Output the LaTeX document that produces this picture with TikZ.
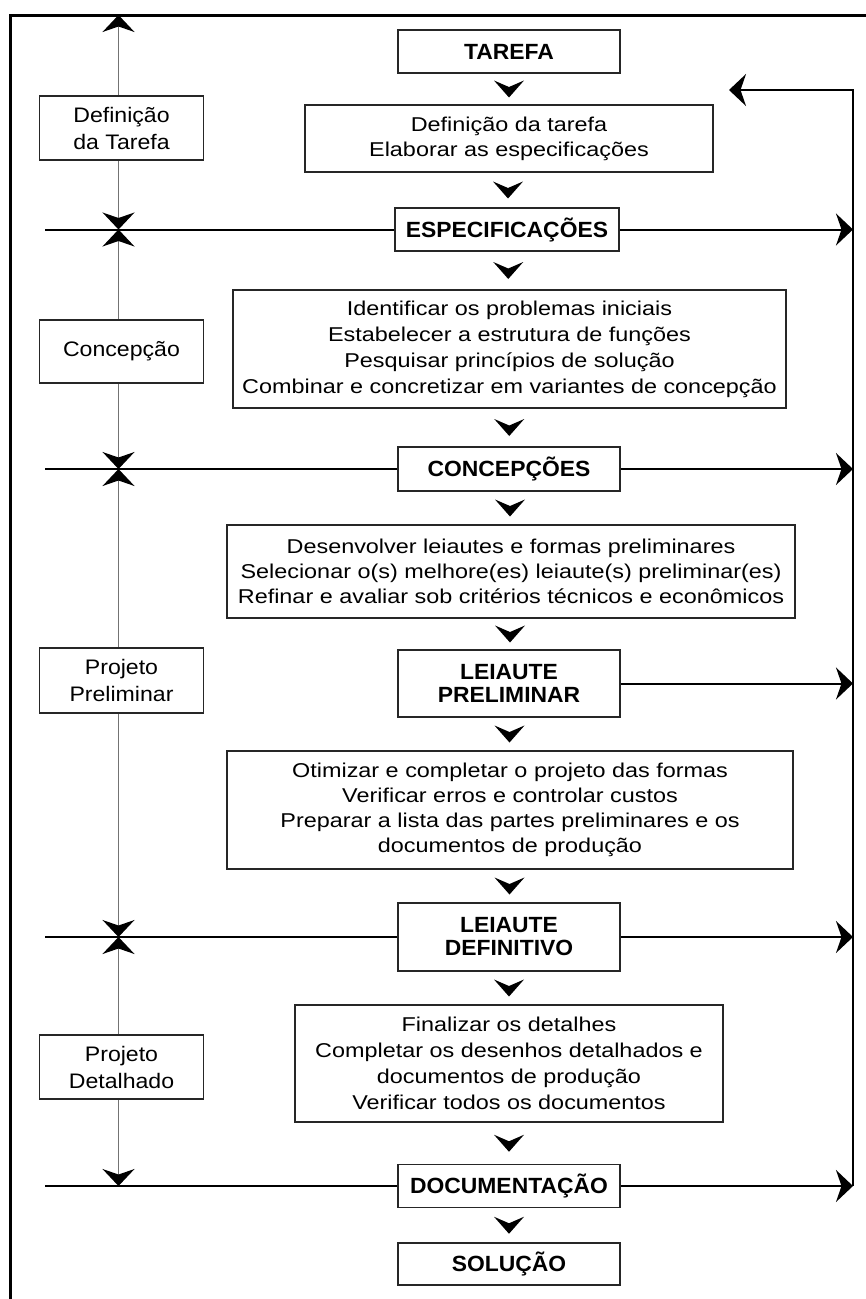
\documentclass[tikz,border=0pt]{standalone}
\usepackage{fontspec}
\setmainfont{Liberation Sans}[FakeStretch=1.17]
\newfontfamily\sidefont{Liberation Sans}[FakeStretch=1.1]
\newfontfamily\capfont{Liberation Sans}[FakeStretch=1.04]
\usetikzlibrary{arrows.meta,calc}
\begin{document}
\begin{tikzpicture}[x=1pt,y=-1pt,
  box/.style={draw=black!85,line width=1.8pt,inner sep=0pt,align=center,fill=white,font=\fontsize{20}{25}\selectfont},
  capbox/.style={box,font=\capfont\fontsize{22}{23}\selectfont\bfseries,minimum width=222pt},
  sidebox/.style={box,minimum width=164pt,font=\sidefont\fontsize{21}{27}\selectfont},
  tip/.style={-{Stealth[length=17pt,width=32pt,inset=5.5pt,black]}},
  hline/.style={draw=black,line width=2pt},
  vline/.style={draw=black!55,line width=1.6pt},
  frameline/.style={draw=black,line width=3pt},
  chev/.pic={\fill[black] (-15,-8.5) -- (0,-2) -- (15,-8.5) -- (0,8.5) -- cycle;}
]
\useasboundingbox (0,0) rectangle (866,1299);
% frame
\draw[frameline] (10,1299) -- (10,15) -- (866,15);
% coordinates
\coordinate (L) at (118.5,15);
\coordinate (H) at (45,0);
\coordinate (F) at (853,90);
\coordinate (FT) at (729,90);
% nodes
\node[capbox,minimum height=43pt] (tarefa) at (509,51.5) {TAREFA};
\node[box,minimum width=408pt,minimum height=67pt] (b1) at (509,138.5) {Definição da tarefa\\Elaborar as especificações};
\node[sidebox,minimum height=64pt] (s1) at (121.5,128) {Definição\\da Tarefa};
\node[capbox,minimum width=224pt,minimum height=43pt] (espec) at (507,229.5) {ESPECIFICAÇÕES};
\node[box,minimum width=553pt,minimum height=118pt,font=\fontsize{20}{26}\selectfont] (b2) at (509.5,349) {Identificar os problemas iniciais\\Estabelecer a estrutura de funções\\Pesquisar princípios de solução\\Combinar e concretizar em variantes de concepção};
\node[sidebox,minimum height=63pt] (s2) at (121.5,351.5) {Concepção};
\node[capbox,minimum height=44pt] (concs) at (509,469) {CONCEPÇÕES};
\node[box,minimum width=568pt,minimum height=93pt] (b3) at (511,571.5) {Desenvolver leiautes e formas preliminares\\Selecionar o(s) melhore(es) leiaute(s) preliminar(es)\\Refinar e avaliar sob critérios técnicos e econômicos};
\node[capbox,minimum height=67pt] (lpre) at (509,683.5) {LEIAUTE\\PRELIMINAR};
\node[sidebox,minimum height=65pt] (s3) at (121.5,680.5) {Projeto\\Preliminar};
\node[box,minimum width=566pt,minimum height=118pt] (b4) at (510,810) {Otimizar e completar o projeto das formas\\Verificar erros e controlar custos\\Preparar a lista das partes preliminares e os\\documentos de produção};
\node[capbox,minimum height=68pt] (ldef) at (509,937) {LEIAUTE\\DEFINITIVO};
\node[box,minimum width=428pt,minimum height=117pt,font=\fontsize{20}{26}\selectfont] (b5) at (509,1063.5) {Finalizar os detalhes\\Completar os desenhos detalhados e\\documentos de produção\\Verificar todos os documentos};
\node[sidebox,minimum height=64pt] (s4) at (121.5,1067) {Projeto\\Detalhado};
\node[capbox,minimum height=43pt] (doc) at (509,1186) {DOCUMENTAÇÃO};
\node[capbox,minimum height=42pt] (sol) at (509,1264) {SOLUÇÃO};
% horizontal milestone lines
\foreach \n in {espec,concs,ldef,doc} {
  \draw[hline] (H |- \n.west) -- (\n.west);
  \draw[hline,tip] (\n.east) -- (\n.east -| F);
}
\draw[hline,tip] (lpre.east) -- (lpre.east -| F);
% feedback loop
\draw[hline,tip] (doc.east -| F) -- (F) -- (FT);
% left phase line
\draw[vline,tip] (s1.north -| L) -- (L);
\draw[vline,tip] (s1.south -| L) -- (L |- espec.west);
\draw[vline,tip] (s2.north -| L) -- (L |- espec.west);
\draw[vline,tip] (s2.south -| L) -- (L |- concs.west);
\draw[vline,tip] (s3.north -| L) -- (L |- concs.west);
\draw[vline,tip] (s3.south -| L) -- (L |- ldef.west);
\draw[vline,tip] (s4.north -| L) -- (L |- ldef.west);
\draw[vline,tip] (s4.south -| L) -- (L |- doc.west);
% flow chevrons
\foreach \a/\b in {tarefa/b1,b1/espec,espec/b2,b2/concs,concs/b3,b3/lpre,lpre/b4,b4/ldef,ldef/b5,b5/doc,doc/sol}
  \pic at ($(\a.south)!.5!(\b.north)$) {chev};
\end{tikzpicture}
\end{document}
